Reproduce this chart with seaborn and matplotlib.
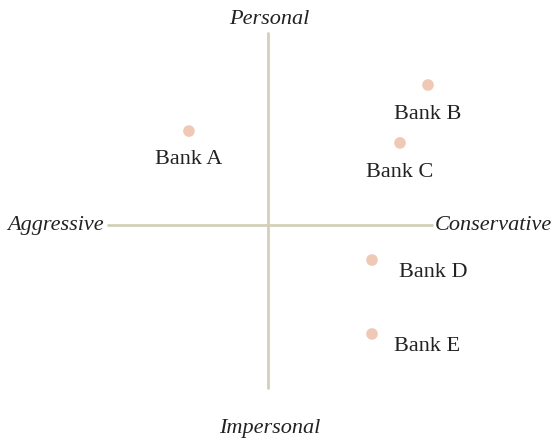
import matplotlib
matplotlib.use("Agg")
import matplotlib.pyplot as plt
import seaborn as sns
import pandas as pd

banks = ["Bank A", "Bank B", "Bank C", "Bank D", "Bank E"]
conservatism = [-4.94, 10.0, 8.25, 6.5, 6.5]
personal = [5.87, 8.75, 5.13, -2.19, -6.81]
axis_labels = ["Aggressive", "Conservative", "Personal", "Impersonal"]

df = pd.DataFrame({"bank": banks, "x": conservatism, "y": personal})

sns.set_theme(style="white")
plt.rcParams["font.family"] = ["Liberation Serif", "DejaVu Serif"]

fig = plt.figure(figsize=(5.57, 4.43), dpi=100)
ax = fig.add_axes([0, 0, 1, 1])
ax.set_xlim(-16.75, 18.0625)
ax.set_ylim(-13.625, 14.0625)
ax.axis("off")

line_color = "#d3cfb8"
ax.plot([-10.0, 10.25], [0, 0], color=line_color, lw=2.0, zorder=1)
ax.plot([0, 0], [-10.2, 12.0], color=line_color, lw=2.0, zorder=1)

sns.scatterplot(data=df, x="x", y="y", color="#f0c8b6", s=70, edgecolor="none",
                ax=ax, legend=False, zorder=2)

offsets = {"Bank A": (0, -1.8, "center"), "Bank B": (0, -1.85, "center"),
           "Bank C": (0, -1.85, "center"), "Bank D": (1.7, -0.75, "left"),
           "Bank E": (1.4, -0.8, "left")}
fs = 16
for b, x, y in zip(banks, conservatism, personal):
    dx, dy, ha = offsets[b]
    ax.text(x + dx, y + dy, b, ha=ha, va="center", fontsize=fs, color="#222222")

tc = "#222222"
ax.text(-10.25, 0, axis_labels[0], ha="right", va="center", fontsize=fs, style="italic", color=tc)
ax.text(10.45, 0, axis_labels[1], ha="left", va="center", fontsize=fs, style="italic", color=tc)
ax.text(0.1, 12.85, axis_labels[2], ha="center", va="center", fontsize=fs, style="italic", color=tc)
ax.text(0.1, -12.75, axis_labels[3], ha="center", va="center", fontsize=fs, style="italic", color=tc)

fig.savefig("out.png", dpi=100)
